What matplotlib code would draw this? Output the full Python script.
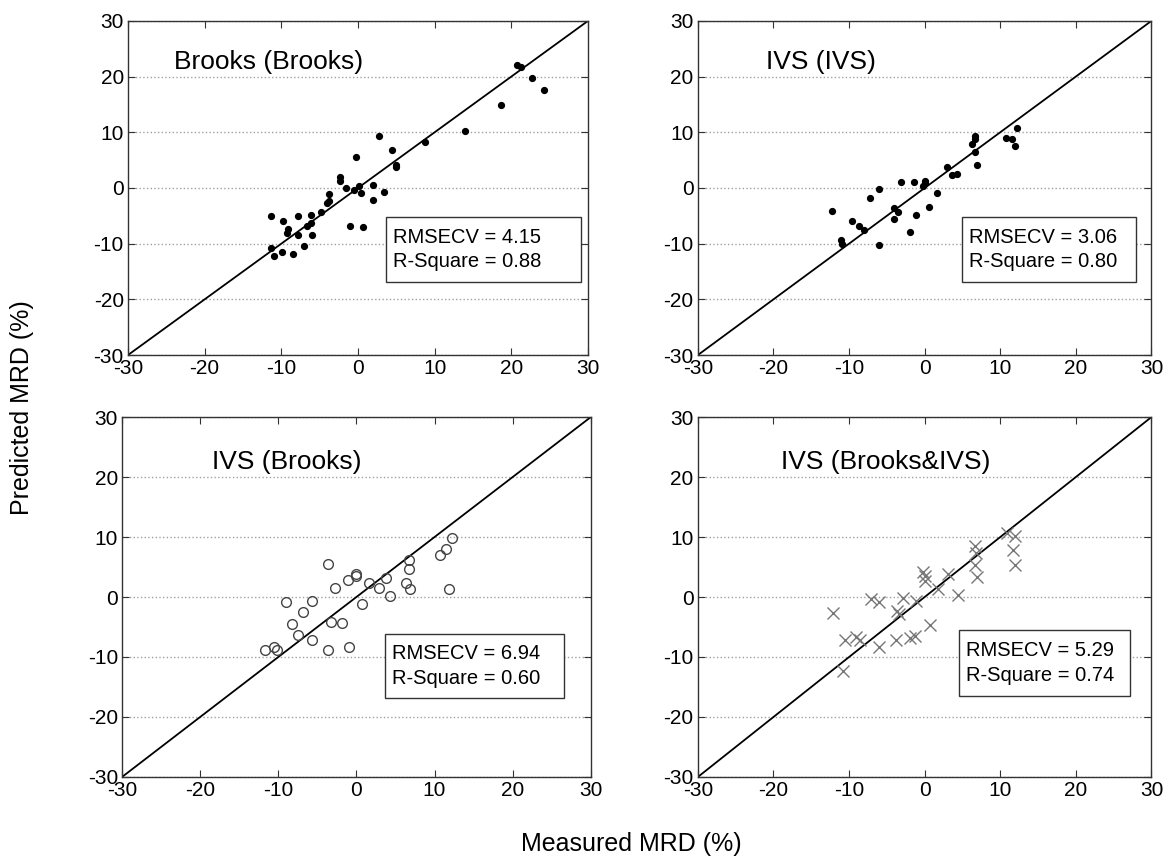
import matplotlib
matplotlib.use("Agg")
import matplotlib.pyplot as plt
from matplotlib.patches import Rectangle

plt.rcParams['font.family'] = ['Liberation Sans', 'DejaVu Sans']
plt.rcParams['axes.unicode_minus'] = False

# Brooks model on Brooks data
bb_meas = [2.8, 14.0, 8.7, 4.4, 4.9, 5.0, -0.3, -2.3, -2.3, -1.6, -0.5, 0.1, 0.4, 2.0, 3.4,
           2.0, -3.8, -4.1, -3.8, -4.8, -6.1, -6.1, -6.7, -7.8, -7.8, -6.0, -9.8, -11.3, -9.1,
           -9.3, -7.1, -8.5, -9.9, -11.3, -10.9, -1.1, 0.6, 20.7, 21.2, 22.7, 24.2, 18.7]
bb_pred = [9.4, 10.2, 8.3, 6.8, 4.2, 3.7, 5.6, 1.9, 1.3, 0.0, -0.35, 0.4, -0.9, 0.5, -0.8,
           -2.2, -1.05, -2.7, -2.4, -4.4, -4.9, -6.3, -6.9, -5.1, -8.4, -8.5, -5.9, -5.0, -7.4,
           -8.0, -10.4, -11.8, -11.5, -10.7, -12.2, -6.9, -7.0, 22.1, 21.7, 19.7, 17.6, 14.9]

# IVS model on IVS data
ii_meas = [12.2, 10.8, 11.5, 11.9, 6.65, 6.7, 6.2, 6.7, 6.9, 3.0, 3.6, 4.3, 0.0, 0.1, -0.2,
           -1.4, -3.1, 1.6, 0.6, -1.2, -2.0, -6.1, -7.2, -4.1, -3.5, -4.1, -6.1, -12.2, -9.6,
           -8.75, -8.0, -11.1, -10.9]
ii_pred = [10.7, 8.9, 8.7, 7.6, 9.4, 8.8, 7.9, 6.5, 4.2, 3.8, 2.4, 2.5, 1.3, 0.8, 0.3,
           1.0, 1.0, -0.9, -3.4, -4.8, -7.9, -0.2, -1.8, -3.6, -4.4, -5.5, -10.3, -4.2, -5.9,
           -6.9, -7.5, -9.4, -10.0]

# IVS data predicted with the Brooks model
ib_meas = [-3.7, 0.0, -0.1, -1.1, -2.8, 1.6, 2.9, 3.8, 6.7, 6.7, 6.3, 6.9, 10.7, 11.5, 12.2,
           11.8, 4.3, 0.7, -9.0, -5.7, -6.8, -8.2, -7.5, -5.7, -3.3, -1.8, -3.7, -1.0, -11.7,
           -10.6, -10.2]
ib_pred = [5.5, 3.9, 3.5, 2.9, 1.5, 2.3, 1.5, 3.1, 6.2, 4.6, 2.4, 1.3, 7.0, 8.0, 9.8,
           1.3, 0.2, -1.2, -0.9, -0.7, -2.5, -4.5, -6.4, -7.1, -4.1, -4.4, -8.9, -8.4, -8.8,
           -8.4, -8.9]

# IVS data predicted with the combined Brooks&IVS model
ic_meas = [6.7, 6.9, 11.9, -0.2, 0.0, 0.1, 3.1, 1.8, 4.4, -7.1, -6.0, -2.9, -1.2, -3.7,
           -12.1, -10.5, -9.1, -8.5, -6.0, -3.8, -2.0, -1.3, 0.7, -10.8, -3.4,
           6.6, 6.8, 10.9, 11.9, 11.7]
ic_pred = [5.4, 3.3, 5.4, 4.1, 3.5, 2.7, 3.8, 1.3, 0.3, -0.4, -0.9, -0.2, -0.6, -2.3,
           -2.7, -7.2, -6.6, -7.2, -8.3, -7.2, -6.9, -6.5, -4.6, -12.3, -2.9,
           8.5, 7.3, 10.7, 10.2, 7.8]

titles = ['Brooks (Brooks)', 'IVS (IVS)', 'IVS (Brooks)', 'IVS (Brooks&IVS)']
rmsecv = [4.15, 3.06, 6.94, 5.29]
rsquare = [0.88, 0.80, 0.60, 0.74]

fig = plt.figure(figsize=(11.69, 8.59), dpi=100)
axes = [
    fig.add_axes([0.1095, 0.5867, 0.3935, 0.389]),
    fig.add_axes([0.597, 0.5867, 0.388, 0.389]),
    fig.add_axes([0.1044, 0.0955, 0.401, 0.419]),
    fig.add_axes([0.597, 0.0955, 0.388, 0.419]),
]

data = [(bb_meas, bb_pred), (ii_meas, ii_pred), (ib_meas, ib_pred), (ic_meas, ic_pred)]
title_x = [-24.0, -21.0, -18.5, -19.0]
# legend boxes: left, top, width, height (data units)
boxes = [(3.6, -5.2, 25.5, 11.6), (5.0, -5.2, 23.0, 11.6),
         (3.6, -6.2, 23.0, 10.6), (4.6, -5.5, 22.5, 11.0)]

for i, ax in enumerate(axes):
    mx, py = data[i]
    ax.plot([-30, 30], [-30, 30], color='black', lw=1.3, zorder=2)
    if i < 2:
        ax.plot(mx, py, 'o', ms=4.2, mfc='black', mec='black', ls='none', zorder=3)
    elif i == 2:
        ax.plot(mx, py, 'o', ms=7, mfc='none', mec='#444444', mew=1.0, ls='none', zorder=3)
    else:
        ax.plot(mx, py, 'x', ms=8, color='#777777', mew=1.0, ls='none', zorder=3)
    ax.set_xlim(-30, 30)
    ax.set_ylim(-30, 30)
    ax.set_xticks(range(-30, 31, 10))
    ax.set_yticks(range(-30, 31, 10))
    ax.yaxis.grid(True, ls=':', color='#a0a0a0', lw=1.0)
    ax.set_axisbelow(True)
    ax.tick_params(direction='in', top=True, right=True, length=5, width=0.8,
                   labelsize=15, color='#333333', pad=3)
    for sp in ax.spines.values():
        sp.set_color('#333333')
        sp.set_linewidth(1.0)
    ax.text(title_x[i], 21.3, titles[i], fontsize=19, va='baseline', ha='left')

    bx, by, bw, bh = boxes[i]
    ax.add_patch(Rectangle((bx, by - bh), bw, bh, fc='white', ec='#333333', lw=1.0, zorder=4))
    ax.text(bx + 0.9, by - bh / 2,
            'RMSECV = %.2f\nR-Square = %.2f' % (rmsecv[i], rsquare[i]),
            fontsize=14.5, va='center', ha='left', linespacing=1.35, zorder=5)

fig.text(0.019, 0.525, 'Predicted MRD (%)', rotation=90, fontsize=18, va='center', ha='center')
fig.text(0.54, 0.017, 'Measured MRD (%)', fontsize=18, va='center', ha='center')

fig.savefig('out.png', dpi=100)
